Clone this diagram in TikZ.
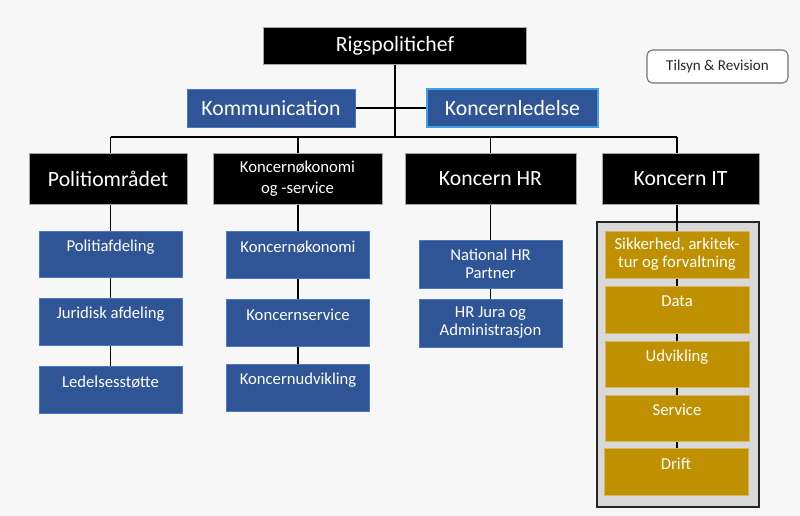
\documentclass[tikz,border=0pt]{standalone}
\usepackage{fontspec}
\setmainfont{Carlito}
\usetikzlibrary{positioning}
\definecolor{bgc}{HTML}{F7F7F7}
\definecolor{navy}{HTML}{2F5597}
\definecolor{navyline}{HTML}{4A78C8}
\definecolor{brightline}{HTML}{3FA0E6}
\definecolor{gold}{HTML}{BF9000}
\definecolor{goldline}{HTML}{D8B560}
\definecolor{panel}{HTML}{D9D9D9}
\definecolor{panelline}{HTML}{262626}
\definecolor{greyline}{HTML}{A6A6A6}
\pgfdeclarelayer{bgfill}
\pgfdeclarelayer{back}
\pgfdeclarelayer{lines}
\pgfsetlayers{bgfill,back,lines,main}
\tikzset{
  sz/.style 2 args={minimum width=#1*0.75pt, minimum height=#2*0.75pt},
  box/.style={rectangle, inner sep=0pt, line width=0.5pt},
  blackbox/.style={box, fill=black, draw=greyline},
  bluebox/.style={box, fill=navy, draw=navyline},
  goldbox/.style={box, fill=gold, draw=goldline},
  bigtxt/.style={text=white, font=\fontsize{16.3}{18}\selectfont, align=center},
  smalltxt/.style={text=white, font=\fontsize{12.5}{13.5}\selectfont, align=center, inner sep=0pt},
  conn/.style={draw=black, line width=1.2pt},
}
\begin{document}
\begin{tikzpicture}[x=0.75pt, y=-0.75pt]
\begin{pgfonlayer}{bgfill}
\fill[bgc] (0,0) rectangle (800,516);
\end{pgfonlayer}
\useasboundingbox (0,0) rectangle (800,516);

% top
\node[blackbox, bigtxt, sz={263}{37}] (rig) at (395,45.5) {Rigspolitichef};
\node[bluebox, bigtxt, sz={168}{38}] (kom) at (271,108) {Kommunication};
\node[bluebox, bigtxt, sz={171}{38}, draw=brightline, line width=0.8pt] (kl) at (512.5,108) {Koncernledelse};
\node[box, sz={141}{33}, fill=white, draw=black!55, rounded corners=4pt, line width=0.8pt,
      text=black!85, font=\fontsize{11.3}{13}\selectfont] (tr) at (717.5,66.5) {Tilsyn \& Revision};

% second level
\node[blackbox, bigtxt, sz={158}{51}] (pol) at (108,178.5) {Politiområdet};
\node[blackbox, sz={169}{51}, text=white, align=center, font=\fontsize{12.5}{15.8}\selectfont] (kos) at (297.5,178.5) {Koncernøkonomi\\og -service};
\node[blackbox, bigtxt, sz={171}{51}] (khr) at (490.5,178.5) {Koncern HR};
\node[blackbox, bigtxt, sz={157}{51}] (kit) at (680.5,178.5) {Koncern IT};

% Politi column
\node[bluebox, sz={143}{46}] (pa) at (110.5,254) {};
\node[smalltxt] (pa-t) at ([yshift=-12pt]pa.north) {Politiafdeling};
\node[bluebox, sz={143}{47}] (jur) at (110.5,321.5) {};
\node[smalltxt] (jur-t) at ([yshift=-12pt]jur.north) {Juridisk afdeling};
\node[bluebox, sz={143}{47}] (led) at (110.5,389.5) {};
\node[smalltxt] (led-t) at ([yshift=-12pt]led.north) {Ledelsesstøtte};

% Koncern column
\node[bluebox, sz={143}{47}] (kok) at (298,254.5) {};
\node[smalltxt] (kok-t) at ([yshift=-12pt]kok.north) {Koncernøkonomi};
\node[bluebox, sz={143}{47}] (ks) at (298,322.5) {};
\node[smalltxt] (ks-t) at ([yshift=-12pt]ks.north) {Koncernservice};
\node[bluebox, sz={143}{47}] (kud) at (298,387.5) {};
\node[smalltxt] (kud-t) at ([yshift=-12pt]kud.north) {Koncernudvikling};

% HR column
\node[bluebox, smalltxt, sz={143}{48}] (nhr) at (490.5,264) {National HR\\Partner};
\node[bluebox, smalltxt, sz={143}{48}] (hrj) at (490.5,323) {HR Jura og\\Administrasjon};

% IT column
\begin{pgfonlayer}{back}
\node[box, sz={162}{285}, fill=panel, draw=panelline, line width=1.4pt] (panel) at (678,364.5) {};
\end{pgfonlayer}
\node[goldbox, smalltxt, sz={144}{47}] (sik) at (677,254.5) {Sikkerhed, arkitek-\\tur og forvaltning};
\node[goldbox, sz={144}{47}] (data) at (677,309.5) {};
\node[smalltxt] (data-t) at ([yshift=-12pt]data.north) {Data};
\node[goldbox, sz={144}{46}] (udv) at (677,364) {};
\node[smalltxt] (udv-t) at ([yshift=-12pt]udv.north) {Udvikling};
\node[goldbox, sz={144}{46}] (serv) at (677,418) {};
\node[smalltxt] (serv-t) at ([yshift=-11.5pt]serv.north) {Service};
\node[goldbox, sz={144}{47}] (drift) at (676,471.5) {};
\node[smalltxt] (drift-t) at ([yshift=-12pt]drift.north) {Drift};

% connectors
\coordinate (bus) at (395,137);
\begin{pgfonlayer}{lines}
\draw[conn] (rig.south) -- (rig.south |- bus);
\draw[conn] (kom.east) -- (kl.west);
\draw[conn] (pa.north |- bus) -- (sik.north |- bus);
\draw[conn] (pa.north |- bus) -- (led.north);
\draw[conn] (kok.north |- bus) -- (kud.north);
\draw[conn] (nhr.north |- bus) -- (hrj.north);
\draw[conn] (sik.north |- bus) -- (sik.north |- drift.north);
\end{pgfonlayer}
\end{tikzpicture}
\end{document}
